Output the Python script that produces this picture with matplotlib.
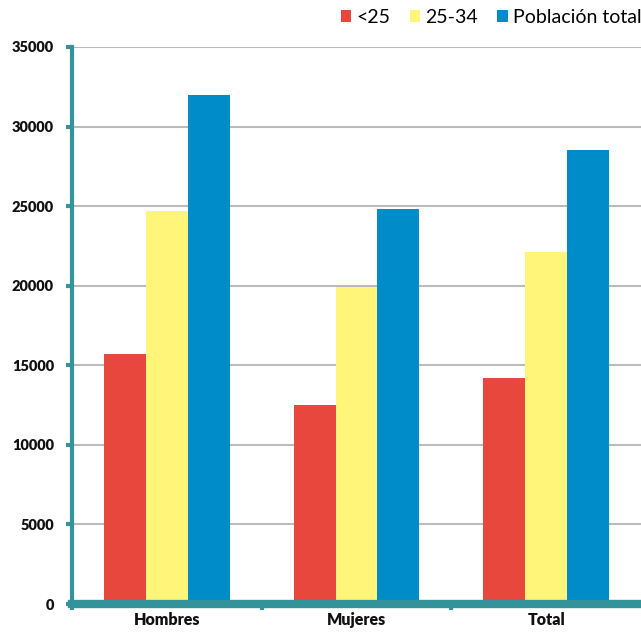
import matplotlib
matplotlib.use("Agg")
import matplotlib.pyplot as plt
from matplotlib.patches import Patch
import numpy as np

categories = ["Hombres", "Mujeres", "Total"]
series_names = ["<25", "25-34", "Población total"]
menores_25 = [15700, 12500, 14200]
edad_25_34 = [24700, 19900, 22100]
poblacion_total = [32000, 24800, 28500]
yticks = [0, 5000, 10000, 15000, 20000, 25000, 30000, 35000]

colors = ["#E8473D", "#FFF679", "#008CC9"]
teal = "#33929A"

plt.rcParams['font.family'] = ['Lato', 'DejaVu Sans']

fig = plt.figure(figsize=(6.41, 6.32), dpi=100)
ax = fig.add_axes([72/641, 1-604/632, 1-72/641, (604-47)/632])

x = np.arange(len(categories))
w = 0.221
for i, (vals, c) in enumerate(zip([menores_25, edad_25_34, poblacion_total], colors)):
    ax.bar(x + (i-1)*w, vals, width=w, color=c, zorder=3, linewidth=0)

ax.set_xlim(-0.5, 2.5)
ax.set_ylim(0, 35000)
ax.set_yticks(yticks)
ax.set_yticklabels([str(v) for v in yticks], fontsize=10.5, fontweight='heavy', color='#111111')
ax.yaxis.grid(True, color='#BBBBBB', linewidth=1.5, zorder=0)
ax.set_axisbelow(True)

ax.set_xticks(x)
ax.set_xticklabels(categories, fontsize=11.5, fontweight='heavy', color='#111111')
ax.tick_params(axis='x', length=0, pad=6)
ax.set_xticks([-0.5, 0.5, 1.5], minor=True)
ax.tick_params(axis='x', which='minor', length=4, width=3, color=teal)
ax.tick_params(axis='y', length=4, width=3, color=teal, pad=9)

for s in ['top', 'right']:
    ax.spines[s].set_visible(False)
ax.spines['left'].set_color(teal)
ax.spines['left'].set_linewidth(3)
ax.spines['bottom'].set_color(teal)
ax.spines['bottom'].set_linewidth(6)
ax.spines['bottom'].set_zorder(5)

handles = [Patch(facecolor=c, edgecolor='none') for c in colors]
leg = fig.legend(handles, series_names, loc='upper right', bbox_to_anchor=(1.022, 1.008),
                 ncol=3, frameon=False, fontsize=14, handlelength=0.55, handleheight=0.55,
                 handletextpad=0.25, columnspacing=1.0, borderaxespad=0.3)

fig.savefig("out.png", dpi=100)
